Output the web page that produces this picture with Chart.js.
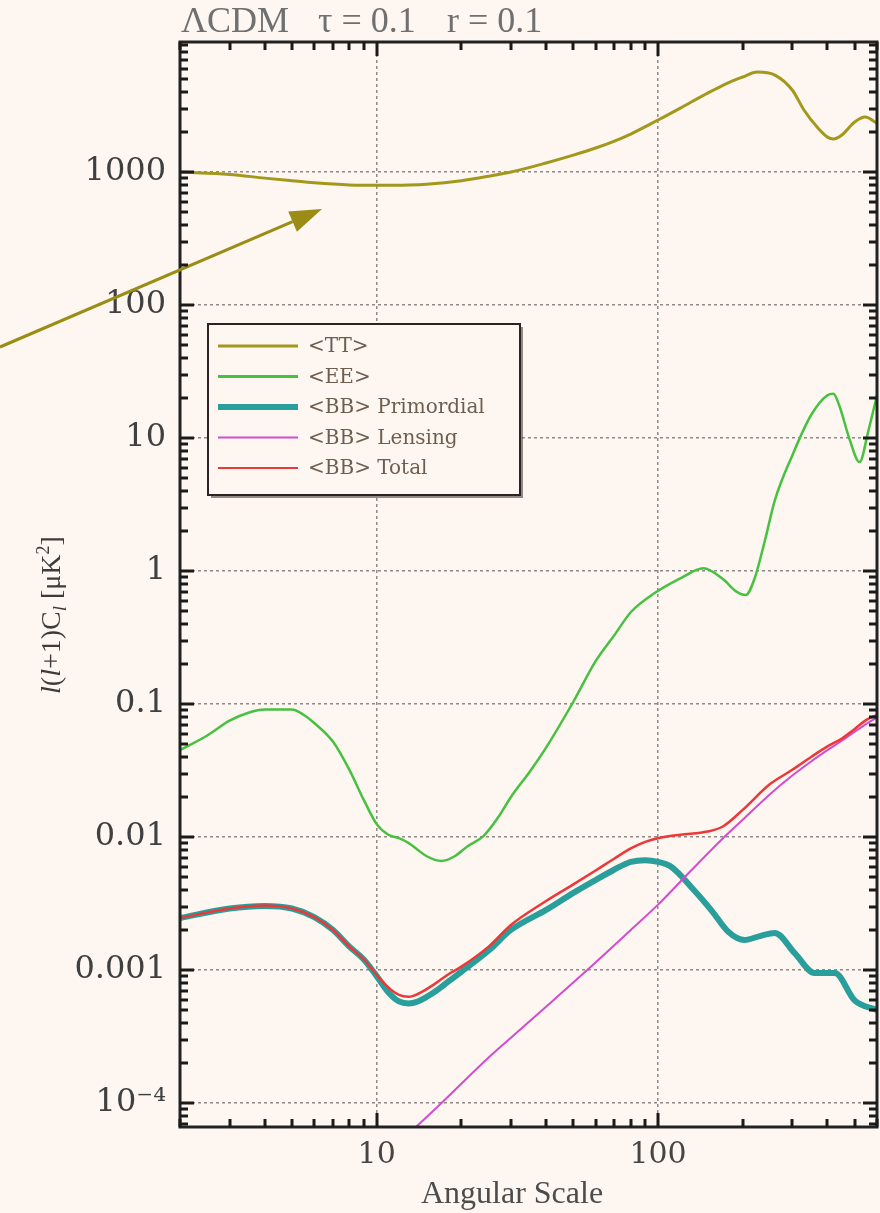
<!DOCTYPE html>
<html>
<head>
<meta charset="utf-8">
<style>
  html, body { margin: 0; padding: 0; background: #fdf6f1; }
  #c { display: block; }
</style>
<script src="https://cdn.jsdelivr.net/npm/chart.js@4.4.1/dist/chart.umd.min.js"></script>
</head>
<body>
<canvas id="c" width="880" height="1213"></canvas>
<script>
// values (multipole l, l(l+1)C_l in uK^2)
const ttL = [2, 3, 4, 5, 6, 8, 10, 13, 15, 20, 25, 30, 40, 50, 60, 70, 80, 100, 120, 150, 180, 200, 225, 260, 300, 330, 370, 400, 420, 450, 500, 545, 600];
const ttV = [1000, 960, 900, 860, 830, 800, 795, 800, 810, 860, 930, 1000, 1170, 1340, 1515, 1710, 1930, 2460, 3025, 3920, 4750, 5180, 5650, 5360, 4140, 2925, 2140, 1830, 1770, 1900, 2380, 2590, 2330];

const eeL = [2, 2.5, 3, 3.5, 4, 5, 5.5, 6, 7, 8, 9, 10, 11, 12, 13, 14, 15, 17, 19, 21, 24, 27, 30, 35, 40, 50, 60, 70, 80, 97, 120, 145, 170, 190, 205, 220, 240, 260, 300, 350, 400, 420, 440, 480, 520, 560, 600];
const eeV = [0.045, 0.058, 0.075, 0.086, 0.091, 0.091, 0.083, 0.072, 0.052, 0.032, 0.019, 0.0125, 0.0104, 0.0098, 0.009, 0.008, 0.0072, 0.0066, 0.0072, 0.0085, 0.0102, 0.014, 0.02, 0.031, 0.047, 0.104, 0.21, 0.33, 0.49, 0.68, 0.88, 1.05, 0.87, 0.70, 0.66, 0.87, 1.71, 3.4, 7.4, 14.9, 21.0, 21.5, 17.7, 9.7, 6.6, 11.5, 21];

const bbPrimL = [2, 3, 4, 5, 6, 7, 8, 9, 10, 11, 12, 13, 14, 16, 18, 20, 25, 30, 40, 50, 60, 70, 80, 90, 100, 111, 134, 155, 178, 203, 230, 260, 306, 360, 425, 500, 600];
const bbPrimV = [0.00246, 0.0029, 0.00303, 0.0029, 0.0025, 0.002, 0.0015, 0.0012, 0.0009, 0.00068, 0.00058, 0.00056, 0.00058, 0.00068, 0.00082, 0.00097, 0.0014, 0.002, 0.00283, 0.0038, 0.00475, 0.0057, 0.0065, 0.0067, 0.0065, 0.006, 0.004, 0.0028, 0.00193, 0.00168, 0.0018, 0.0019, 0.00134, 0.00095, 0.00095, 0.00059, 0.0005];

const bbLensL = [12, 14, 17, 25, 30, 40, 56, 80, 100, 130, 172, 200, 250, 300, 350, 400, 450, 500, 550, 600];
const bbLensV = [0.00005, 0.000068, 0.0001, 0.00022, 0.00031, 0.00053, 0.001, 0.002, 0.0031, 0.0055, 0.01, 0.0135, 0.021, 0.029, 0.037, 0.045, 0.053, 0.062, 0.071, 0.079];

const bbTotL = [2, 3, 4, 5, 6, 7, 8, 9, 10, 11, 12, 13, 14, 16, 18, 20, 25, 30, 40, 50, 60, 70, 80, 90, 100, 120, 150, 170, 200, 250, 300, 350, 400, 450, 500, 550, 600];
const bbTotV = [0.00246, 0.0029, 0.00305, 0.0029, 0.0025, 0.002, 0.0015, 0.0012, 0.00092, 0.00074, 0.00065, 0.00063, 0.00066, 0.00078, 0.00093, 0.00106, 0.0015, 0.00218, 0.0033, 0.0044, 0.0056, 0.0069, 0.0082, 0.0092, 0.0098, 0.0104, 0.011, 0.012, 0.016, 0.025, 0.032, 0.04, 0.048, 0.055, 0.065, 0.076, 0.083];

const seriesNames = ['<TT>', '<EE>', '<BB> Primordial', '<BB> Lensing', '<BB> Total'];
const seriesColors = ['#a3981c', '#48c040', '#2a9e9a', '#d24cd2', '#ec3838'];

const yTickVals = [0.0001, 0.001, 0.01, 0.1, 1, 10, 100, 1000];
const yTickLabels = ['10⁻⁴', '0.001', '0.01', '0.1', '1', '10', '100', '1000'];
const xTickVals = [10, 100];
const xTickLabels = ['10', '100'];

const titleParts = ['ΛCDM', 'τ = 0.1', 'r = 0.1'];
const xTitle = 'Angular Scale';

const BG = '#fdf6f1';
const pts = (ls, vs) => ls.map((l, i) => ({ x: l, y: vs[i] }));

function ds(i, ls, vs, w, order) {
  return {
    label: seriesNames[i],
    data: pts(ls, vs),
    borderColor: seriesColors[i],
    backgroundColor: seriesColors[i],
    borderWidth: w,
    pointRadius: 0,
    cubicInterpolationMode: 'monotone',
    order: order
  };
}

const bg = {
  id: 'bg',
  beforeDraw(chart) {
    const ctx = chart.ctx;
    ctx.save();
    ctx.fillStyle = BG;
    ctx.fillRect(0, 0, chart.width, chart.height);
    ctx.restore();
  }
};

const decor = {
  id: 'decor',
  afterDraw(chart) {
    const ctx = chart.ctx;
    const a = chart.chartArea;
    ctx.save();
    ctx.setLineDash([]);

    // frame
    ctx.lineWidth = 3;
    ctx.strokeStyle = '#222';
    ctx.strokeRect(a.left, a.top, a.right - a.left, a.bottom - a.top);

    // legend box
    const bx = 208, by = 324, bw = 312, bh = 171;
    ctx.fillStyle = 'rgba(60,50,50,0.55)';
    ctx.fillRect(bx + 3, by + 3, bw, bh);
    ctx.fillStyle = BG;
    ctx.fillRect(bx, by, bw, bh);
    ctx.lineWidth = 2;
    ctx.strokeStyle = '#2a2424';
    ctx.strokeRect(bx, by, bw, bh);
    const widths = [3, 3, 6, 2, 2];
    ctx.font = '20px "DejaVu Serif"';
    ctx.textBaseline = 'middle';
    ctx.textAlign = 'left';
    seriesNames.forEach((name, i) => {
      const yy = by + 22 + i * 30.5;
      ctx.strokeStyle = seriesColors[i];
      ctx.lineWidth = widths[i];
      ctx.beginPath();
      ctx.moveTo(bx + 10, yy); ctx.lineTo(bx + 90, yy);
      ctx.stroke();
      ctx.fillStyle = '#6e5e50';
      ctx.fillText(name, bx + 100, yy + 1);
    });

    // title above plot
    ctx.fillStyle = '#707070';
    ctx.font = '36px "Liberation Serif"';
    ctx.textBaseline = 'alphabetic';
    ctx.fillText(titleParts[0], 181, 32);
    ctx.fillText(titleParts[1], 318, 32);
    ctx.fillText(titleParts[2], 447, 32);

    // x axis title
    ctx.fillStyle = '#4c4c4c';
    ctx.font = '32px "Liberation Serif"';
    ctx.textAlign = 'center';
    ctx.fillText(xTitle, 512, 1203);

    // y axis title, rotated, with italic l and sub/superscripts
    const parts = [
      ['l', 'italic 28px "Liberation Serif"', 0],
      ['(', '28px "Liberation Serif"', 0],
      ['l', 'italic 28px "Liberation Serif"', 0],
      ['+1)C', '28px "Liberation Serif"', 0],
      ['l', 'italic 19px "Liberation Serif"', 6],
      [' [μK', '28px "Liberation Serif"', 0],
      ['2', '18px "Liberation Serif"', -11],
      [']', '28px "Liberation Serif"', 0]
    ];
    let total = 0;
    parts.forEach(p => { ctx.font = p[1]; total += ctx.measureText(p[0]).width; });
    ctx.translate(60, 615);
    ctx.rotate(-Math.PI / 2);
    ctx.textAlign = 'left';
    ctx.fillStyle = '#3c3c3c';
    let cx = -total / 2;
    parts.forEach(p => {
      ctx.font = p[1];
      ctx.fillText(p[0], cx, p[2]);
      cx += ctx.measureText(p[0]).width;
    });
    ctx.setTransform(1, 0, 0, 1, 0, 0);

    // arrow pointing at the TT curve
    const x0 = 0, y0 = 347, x1 = 322, y1 = 209;
    const ang = Math.atan2(y1 - y0, x1 - x0);
    const hl = 32, hw = 11;
    const bxp = x1 - hl * Math.cos(ang), byp = y1 - hl * Math.sin(ang);
    ctx.strokeStyle = '#9a8c14';
    ctx.fillStyle = '#9a8c14';
    ctx.lineWidth = 3;
    ctx.beginPath();
    ctx.moveTo(x0, y0); ctx.lineTo(bxp, byp);
    ctx.stroke();
    ctx.beginPath();
    ctx.moveTo(x1, y1);
    ctx.lineTo(bxp + hw * Math.sin(ang), byp - hw * Math.cos(ang));
    ctx.lineTo(bxp - hw * Math.sin(ang), byp + hw * Math.cos(ang));
    ctx.closePath();
    ctx.fill();
    ctx.restore();
  }
};

// minor / major tick marks on all four sides of the frame
const frameTicks = {
  id: 'frameTicks',
  afterDraw(chart) {
    const ctx = chart.ctx;
    const a = chart.chartArea;
    const xs = chart.scales.x, ys = chart.scales.y;
    ctx.save();
    ctx.setLineDash([]);
    ctx.strokeStyle = '#1a1a1a';
    ctx.lineWidth = 3;
    for (let e = -5; e <= 4; e++) {
      for (let m = 1; m <= 9; m++) {
        const v = m * Math.pow(10, e);
        if (v < ys.min || v > ys.max) continue;
        const p = Math.round(ys.getPixelForValue(v));
        const len = m === 1 ? 14 : 8;
        ctx.beginPath();
        ctx.moveTo(a.left, p); ctx.lineTo(a.left + len, p);
        ctx.moveTo(a.right, p); ctx.lineTo(a.right - len, p);
        ctx.stroke();
      }
    }
    for (let e = 0; e <= 3; e++) {
      for (let m = 1; m <= 9; m++) {
        const v = m * Math.pow(10, e);
        if (v < xs.min || v > xs.max) continue;
        const p = Math.round(xs.getPixelForValue(v));
        const len = m === 1 ? 14 : 8;
        ctx.beginPath();
        ctx.moveTo(p, a.bottom); ctx.lineTo(p, a.bottom - len);
        ctx.moveTo(p, a.top); ctx.lineTo(p, a.top + len);
        ctx.stroke();
      }
    }
    ctx.restore();
  }
};

new Chart(document.getElementById('c'), {
  type: 'line',
  data: {
    datasets: [
      ds(0, ttL, ttV, 3, 4),
      ds(1, eeL, eeV, 2.5, 3),
      ds(2, bbPrimL, bbPrimV, 6, 2),
      ds(3, bbLensL, bbLensV, 2, 1),
      ds(4, bbTotL, bbTotV, 2.5, 0)
    ]
  },
  options: {
    responsive: false,
    animation: false,
    devicePixelRatio: 1,
    layout: { padding: { top: 42, right: 3, left: 0, bottom: 0 } },
    plugins: { legend: { display: false }, tooltip: { enabled: false } },
    scales: {
      x: {
        type: 'logarithmic',
        min: 2,
        max: 600,
        afterFit: s => { s.height = 86; },
        afterBuildTicks: s => { s.ticks = xTickVals.map(v => ({ value: v })); },
        grid: { color: 'rgba(110,100,100,0.75)', lineWidth: 1.5, drawTicks: false },
        border: { display: false, dash: [3, 3] },
        ticks: {
          padding: 10,
          color: '#454545',
          font: { family: 'DejaVu Serif', size: 30 },
          maxRotation: 0,
          callback: (v, i) => xTickLabels[i]
        }
      },
      y: {
        type: 'logarithmic',
        min: 0.000066,
        max: 9500,
        afterFit: s => { s.width = 180; },
        afterBuildTicks: s => { s.ticks = yTickVals.map(v => ({ value: v })); },
        grid: { color: 'rgba(110,100,100,0.75)', lineWidth: 1.5, drawTicks: false },
        border: { display: false, dash: [3, 3] },
        ticks: {
          padding: 14,
          color: '#404040',
          font: { family: 'DejaVu Serif', size: 32 },
          callback: (v, i) => yTickLabels[i]
        }
      }
    }
  },
  plugins: [bg, decor, frameTicks]
});
</script>
</body>
</html>
